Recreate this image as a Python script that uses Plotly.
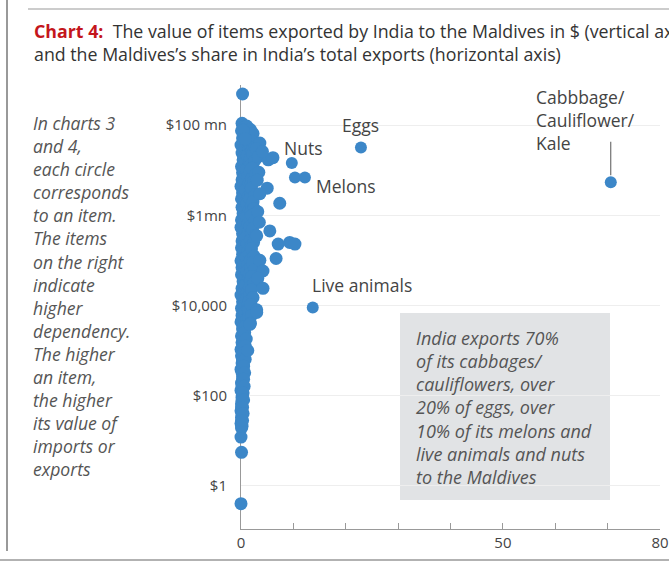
import math
import plotly.graph_objects as go

# ---------------- data ----------------
# labelled items: (share of India's exports going to Maldives %, export value $)
labeled_names = ["Eggs", "Nuts", "Melons", "Melons", "Live animals", "Cabbbage/Cauliflower/Kale"]
labeled_share = [22.9, 9.7, 10.3, 12.2, 13.7, 70.6]
labeled_value = [3.2e7, 1.44e7, 6.9e6, 6.9e6, 9.0e3, 5.4e6]

# all other items (share %, value $)
other_items = [
    (0.2, 1.1e8), (0.1, 7.5e7), (0.3, 5.2e7), (0.0, 3.6e7), (0.2, 2.4e7), (0.4, 1.7e7),
    (0.1, 1.2e7), (0.3, 8.8e6), (0.2, 6.1e6), (0.0, 4.4e6), (0.3, 3.1e6), (0.1, 2.3e6),
    (0.2, 1.5e6), (0.4, 1.1e6), (0.1, 7.9e5), (0.0, 5.4e5), (0.3, 3.9e5), (0.2, 2.7e5),
    (0.1, 1.9e5), (0.3, 1.35e5), (0.0, 9.8e4), (0.2, 6.9e4), (0.1, 4.8e4), (0.4, 3.4e4),
    (0.2, 2.4e4), (0.0, 1.7e4), (0.3, 1.2e4), (0.1, 8.6e3), (0.2, 6.0e3), (0.0, 4.3e3),
    (0.3, 3.0e3), (0.1, 2.1e3), (0.2, 1.5e3), (0.0, 1.05e3), (0.1, 760), (0.2, 530),
    (0.0, 380), (0.3, 260), (0.1, 190), (0.0, 130), (0.2, 92), (0.1, 66), (0.0, 46),
    (0.1, 33), (0.0, 24), (0.1, 19), (0.0, 12), (0.1, 5.5), (0.0, 0.4),
    (0.6, 9.0e7), (0.7, 6.2e7), (0.5, 4.4e7), (0.8, 3.0e7), (0.6, 2.0e7), (0.7, 1.45e7),
    (0.5, 1.0e7), (0.8, 7.4e6), (0.6, 5.2e6), (0.7, 3.7e6), (0.5, 2.7e6), (0.8, 1.9e6),
    (0.6, 1.3e6), (0.7, 9.3e5), (0.5, 6.6e5), (0.8, 4.6e5), (0.6, 3.3e5), (0.7, 2.3e5),
    (0.5, 1.6e5), (0.8, 1.15e5), (0.6, 8.2e4), (0.7, 5.8e4), (0.5, 4.1e4), (0.8, 2.9e4),
    (0.6, 2.0e4), (0.7, 1.45e4), (0.5, 1.0e4), (0.6, 7.2e3), (0.7, 5.1e3), (0.5, 3.6e3),
    (0.6, 2.6e3), (0.4, 1.8e3), (0.5, 1.3e3), (0.4, 880), (0.3, 640), (0.4, 450),
    (0.2, 320), (0.3, 220), (0.2, 160), (0.3, 110), (0.2, 78), (0.1, 56), (0.2, 40),
    (0.1, 28), (0.2, 21),
    (1.1, 9.5e7), (1.4, 6.2e7), (0.9, 4.3e7), (1.5, 3.1e7), (1.2, 2.1e7), (1.6, 1.45e7),
    (1.0, 1.0e7), (1.3, 7.2e6), (1.5, 5.0e6), (0.9, 3.6e6), (1.4, 2.6e6), (1.1, 1.8e6),
    (1.6, 1.3e6), (1.0, 9.0e5), (1.3, 6.4e5), (1.5, 4.5e5), (0.9, 3.2e5), (1.2, 2.3e5),
    (1.4, 1.6e5), (1.0, 1.15e5), (1.3, 8.0e4), (1.1, 5.6e4), (1.4, 4.0e4), (0.9, 2.8e4),
    (1.2, 2.0e4), (1.0, 1.4e4), (1.3, 9.8e3), (0.8, 7.0e3), (1.1, 5.0e3), (0.9, 3.5e3),
    (0.7, 2.5e3), (1.0, 1.8e3), (0.8, 1.25e3), (0.6, 900), (0.8, 640), (0.5, 450),
    (0.7, 320), (0.5, 230), (0.6, 160), (0.4, 115), (0.5, 80), (0.3, 55), (0.4, 40), (0.3, 28),
    (1.8, 8.0e7), (1.9, 5.4e7), (1.7, 3.8e7), (2.0, 2.6e7), (1.8, 1.85e7), (1.9, 1.3e7),
    (1.7, 9.2e6), (2.0, 6.5e6), (1.8, 4.6e6), (1.9, 3.2e6), (1.7, 2.3e6), (2.0, 1.6e6),
    (1.8, 1.15e6), (1.9, 8.0e5), (1.7, 5.7e5), (2.0, 4.0e5), (1.8, 2.8e5), (1.9, 2.0e5),
    (1.7, 1.4e5), (1.8, 1.0e5), (1.9, 7.0e4), (1.7, 5.0e4), (1.8, 3.5e4), (1.6, 2.5e4),
    (1.7, 1.75e4), (1.5, 1.2e4), (1.4, 8e3), (1.5, 5.5e3),
    (2.3, 6.5e7), (2.0, 4.5e7), (2.7, 3.2e7), (2.2, 2.3e7), (2.6, 1.6e7), (2.1, 1.1e7),
    (2.8, 8.0e6), (2.4, 5.6e6), (2.0, 4.0e6), (2.7, 2.8e6), (2.3, 2.0e6), (2.5, 1.4e6),
    (2.1, 1.0e6), (2.6, 7.2e5), (2.2, 5.0e5), (2.8, 3.6e5), (2.4, 2.5e5), (2.0, 1.8e5),
    (2.5, 1.25e5), (2.2, 8.8e4), (2.6, 6.2e4), (2.1, 4.4e4), (2.4, 3.1e4), (2.0, 2.2e4),
    (2.3, 1.5e4), (1.9, 1.05e4), (2.0, 6e3), (1.8, 4e3),
    (0.3, 4.9e8), (0.4, 7.7e7), (0.8, 5e7), (3.6, 4e7), (2.9, 3.0e7), (3.3, 2.0e7),
    (5.2, 1.7e7), (6.1, 1.9e7), (4.1, 2.6e7), (3.4, 9e6), (3.1, 6e6), (5.0, 4e6),
    (3.6, 3e6), (7.4, 1.85e6), (3.2, 1.2e6), (3.5, 7e5), (5.5, 4.5e5), (3.0, 3.5e5),
    (7.1, 2.3e5), (9.3, 2.5e5), (10.3, 2.3e5), (6.7, 1.1e5), (3.6, 1.0e5), (4.2, 5.8e4),
    (3.2, 4e4), (4.2, 2.4e4), (3.0, 8e3), (3.0, 7e3), (1.7, 3.8e3), (1.3, 1.0e3),
]
other_share = [s for s, v in other_items]
other_value = [v for s, v in other_items]

x_tickvals = [0, 10, 20, 30, 40, 50, 60, 70, 80]
x_ticktext = ["0", "", "", "", "", "50", "", "", "80"]
y_tickvals = [1, 100, 1e4, 1e6, 1e8]
y_ticktext = ["$1", "$100", "$10,000", "$1mn", "$100 mn"]

title_1 = ('<span style="color:#c4161c"><b>Chart 4:</b></span>  The value of items exported by India '
           'to the Maldives in $ (vertical axis)')
title_2 = "and the Maldives’s share in India’s total exports (horizontal axis)"
side_lines = ["In charts 3", "and 4,", "each circle", "corresponds", "to an item.", "The items",
              "on the right", "indicate", "higher", "dependency.", "The higher", "an item,",
              "the higher", "its value of", "imports or", "exports"]
box_lines = ["India exports 70%", "of its cabbages/", "cauliflowers, over", "20% of eggs, over",
             "10% of its melons and", "live animals and nuts", "to the Maldives"]

# ---------------- layout helpers ----------------
W, H = 669, 565
L, R, T, B = 241, 9, 85, 36
PW, PH = W - L - R, H - T - B


def px(x):
    return (x - L) / PW


def py(y):
    return (H - B - y) / PH


BLUE = "#3c87c8"
FONT = "Open Sans"
TXT = "#444444"

fig = go.Figure()
fig.add_trace(go.Scatter(x=other_share, y=other_value, mode="markers",
                         marker=dict(size=13, color=BLUE, line=dict(width=0)),
                         cliponaxis=False, showlegend=False, hoverinfo="skip"))
fig.add_trace(go.Scatter(x=labeled_share, y=labeled_value, mode="markers",
                         marker=dict(size=12, color=BLUE, line=dict(width=0)),
                         cliponaxis=False, showlegend=False, text=labeled_names))

ann = []
ann.append(dict(text=title_1, xref="paper", yref="paper", x=px(32), y=py(31), xanchor="left",
                yanchor="middle", showarrow=False, font=dict(family=FONT, size=17.8, color="#333")))
ann.append(dict(text=title_2, xref="paper", yref="paper", x=px(32), y=py(54), xanchor="left",
                yanchor="middle", showarrow=False, font=dict(family=FONT, size=17.8, color="#333")))
side_y = [123, 146, 169, 192, 215, 238, 262, 285, 308, 331, 354, 377, 400, 423, 446, 469]
for t, yy in zip(side_lines, side_y):
    ann.append(dict(text=f"<i>{t}</i>", xref="paper", yref="paper", x=px(31), y=py(yy),
                    xanchor="left", yanchor="middle", showarrow=False,
                    font=dict(family=FONT, size=17.6, color="#555")))
box_y = [338, 361, 384, 407, 431, 454, 477]
for t, yy in zip(box_lines, box_y):
    ann.append(dict(text=f"<i>{t}</i>", xref="paper", yref="paper", x=px(414), y=py(yy),
                    xanchor="left", yanchor="middle", showarrow=False,
                    font=dict(family=FONT, size=18, color="#555")))

lab_font = dict(family=FONT, size=17.5, color=TXT)
# Eggs
ann.append(dict(text="Eggs", x=labeled_share[0], y=math.log10(labeled_value[0]), yshift=22,
                showarrow=False, font=lab_font))
# Nuts
ann.append(dict(text="Nuts", x=labeled_share[1], y=math.log10(labeled_value[1]), xshift=12, yshift=15,
                showarrow=False, font=lab_font))
# Melons
ann.append(dict(text="Melons", x=labeled_share[3], y=math.log10(labeled_value[3]), xshift=9, yshift=-9,
                xanchor="left", showarrow=False, font=lab_font))
# Live animals
ann.append(dict(text="Live animals", x=labeled_share[4], y=math.log10(labeled_value[4]), xshift=-3,
                yshift=22, xanchor="left", showarrow=False, font=lab_font))
# Cabbage
for t, dy in zip(["Cabbbage/", "Cauliflower/", "Kale"], [85, 62, 39]):
    ann.append(dict(text=t, x=labeled_share[5], y=math.log10(labeled_value[5]), xshift=-77, yshift=dy,
                    xanchor="left", showarrow=False, font=lab_font))
ann.append(dict(text="", x=labeled_share[5], y=math.log10(labeled_value[5]), ax=0, ay=-42,
                showarrow=True, arrowhead=0, arrowwidth=1, arrowcolor="#555", standoff=7))

shapes = [
    dict(type="rect", xref="paper", yref="paper", x0=px(400), x1=px(610), y0=py(500), y1=py(313),
         fillcolor="#e1e3e5", line=dict(width=0), layer="below"),
    dict(type="line", xref="paper", yref="paper", x0=px(7), x1=px(7), y0=py(0), y1=py(551),
         line=dict(color="#999", width=2)),
    dict(type="line", xref="paper", yref="paper", x0=px(28), x1=px(669), y0=py(9), y1=py(9),
         line=dict(color="#ccc", width=2)),
    dict(type="line", xref="paper", yref="paper", x0=px(0), x1=px(669), y0=py(560), y1=py(560),
         line=dict(color="#999", width=1.5)),
]

fig.update_layout(
    width=W, height=H, margin=dict(l=L, r=R, t=T, b=B, autoexpand=False),
    paper_bgcolor="white", plot_bgcolor="white",
    annotations=ann, shapes=shapes, showlegend=False,
    font=dict(family=FONT, color=TXT),
)
fig.update_xaxes(range=[0, 80], tickvals=x_tickvals, ticktext=x_ticktext, showgrid=False,
                 zeroline=False, showline=True, linecolor="#999", linewidth=1, ticks="inside",
                 ticklen=6, tickcolor="#999", tickfont=dict(family=FONT, size=15, color=TXT),
                 automargin=False, layer="below traces")
fig.update_yaxes(type="log", range=[-0.96, 8.89], tickvals=y_tickvals, ticktext=y_ticktext,
                 showgrid=True, gridcolor="#eeeeee", zeroline=False, showline=True, linecolor="#999",
                 linewidth=1, ticks="", tickfont=dict(family=FONT, size=15, color=TXT),
                 ticklabelstandoff=10, automargin=False, layer="below traces")

fig.write_html("out.html")
